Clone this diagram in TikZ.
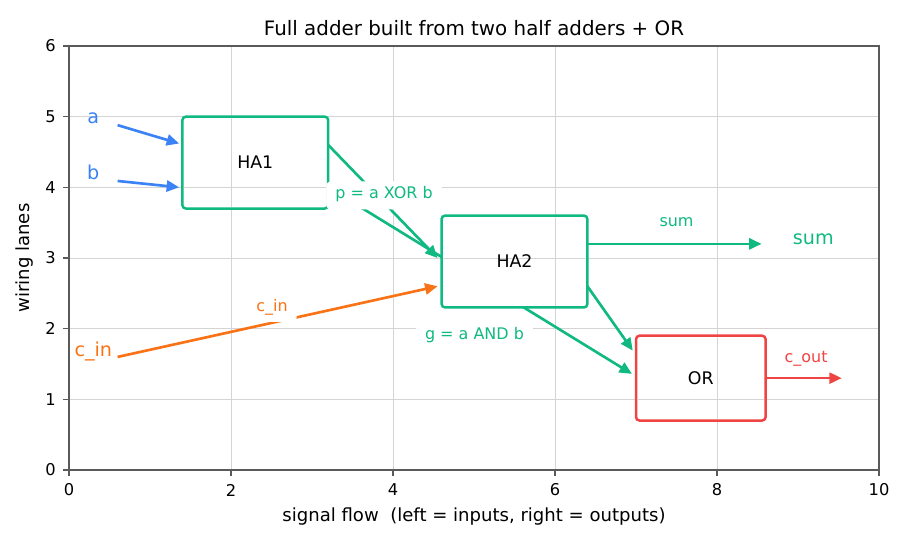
\documentclass[tikz,border=0pt]{standalone}
\usepackage{fontspec}
\setmainfont{DejaVu Sans}
\usetikzlibrary{arrows.meta}
\definecolor{cgreen}{HTML}{10B981}
\definecolor{cblue}{HTML}{3B82F6}
\definecolor{corange}{HTML}{F97316}
\definecolor{cred}{HTML}{EF4444}
\definecolor{cgrid}{HTML}{D4D4D4}
\definecolor{cspine}{HTML}{5A5A5A}
\begin{document}
\begin{tikzpicture}[x=58.32pt,y=50.88pt,
  gridline/.style={cgrid, line width=0.7pt},
  spine/.style={cspine, line width=0.9pt},
  box/.style={draw=#1, line width=1.8pt, rounded corners=2.5pt, fill=white, inner sep=0pt, outer sep=0pt},
  boxtext/.style={text=black, font=\fontsize{12.5}{15}\selectfont},
  wire/.style={draw=#1, line width=1.9pt, -{Triangle[length=9pt,width=8pt,fill=#1]}},
  elabel/.style={text=#1, fill=white, rounded corners=3pt, inner xsep=6.5pt, inner ysep=5pt, text height=0.76em, text depth=0.24em, anchor=base, font=\fontsize{11.5}{14}\selectfont},
  iolabel/.style={text=#1, anchor=base, font=\fontsize{13.8}{16}\selectfont},
  ticklabel/.style={font=\fontsize{11.7}{14}\selectfont, inner sep=0pt},
  axlabel/.style={font=\fontsize{13}{15}\selectfont, inner sep=0pt}]
\useasboundingbox (-0.85185,-1.07547) rectangle (10.38272,6.65094);
% grid
\draw[gridline] (0,0) grid[xstep=2,ystep=1] (10,6);
% endpoints
\coordinate (a0) at (0.6,4.88);
\coordinate (a1) at (1.36,4.62);
\coordinate (b0) at (0.6,4.09);
\coordinate (b1) at (1.36,4.0);
\coordinate (c0) at (0.6,1.6);
\coordinate (c1) at (4.55,2.6);
\coordinate (p0) at (3.2,4.6);
\coordinate (p1) at (4.55,3.0);
\coordinate (g0) at (3.2,4.0);
\coordinate (g1) at (6.95,1.36);
\coordinate (k0) at (6.4,2.6);
\coordinate (k1) at (6.96,1.69);
\coordinate (s0) at (6.4,3.2);
\coordinate (s1) at (8.55,3.2);
\coordinate (o0) at (8.6,1.3);
\coordinate (o1) at (9.54,1.3);
% wires
\draw[wire=cblue] (a0) -- (a1);
\draw[wire=cblue] (b0) -- (b1);
\draw[wire=corange] (c0) -- (c1);
\draw[wire=cgreen] (p0) -- (p1);
\draw[wire=cgreen] (g0) -- (g1);
\draw[wire=cgreen] (k0) -- (k1);
\draw[wire=cgreen] (s0) -- (s1);
\draw[wire=cred] (o0) -- (o1);
% boxes
\node[box=cgreen,minimum width=104.98pt,minimum height=66.14pt] (ha1) at (2.3,4.35) {};
\node[box=cgreen,minimum width=104.98pt,minimum height=66.14pt] (ha2) at (5.5,2.95) {};
\node[box=cred,minimum width=93.31pt,minimum height=61.06pt] (or) at (7.8,1.3) {};
\begin{scope}
\clip ([shift={(1.2pt,1.2pt)}]ha1.south west) rectangle ([shift={(-1.2pt,-1.2pt)}]ha1.north east)
      ([shift={(1.2pt,1.2pt)}]ha2.south west) rectangle ([shift={(-1.2pt,-1.2pt)}]ha2.north east)
      ([shift={(1.2pt,1.2pt)}]or.south west) rectangle ([shift={(-1.2pt,-1.2pt)}]or.north east);
\draw[gridline] (0,0) grid[xstep=2,ystep=1] (10,6);
\end{scope}
\node[boxtext] (ha1t) at (ha1.center) {HA1};
\node[boxtext] (ha2t) at (ha2.center) {HA2};
\node[boxtext] (ort) at (or.center) {OR};
% io labels
\node[iolabel=cblue] (la) at (0.3,4.903) {a};
\node[iolabel=cblue] (lb) at (0.3,4.104) {b};
\node[iolabel=corange] (lc) at (0.3,1.613) {c\_in};
\node[iolabel=cgreen] (lsum) at (9.19,3.184) {sum};
% edge labels
\node[elabel=corange] (ec) at (2.506,2.24) {c\_in};
\node[elabel=cgreen] (ep) at (3.889,3.835) {p = a XOR b};
\node[elabel=cgreen] (eg) at (5.006,1.84) {g = a AND b};
\node[elabel=cgreen] (es) at (7.5,3.44) {sum};
\node[elabel=cred] (eo) at (9.10,1.528) {c\_out};
% spines and ticks
\draw[spine] (0,0) rectangle (10,6);
\foreach \x in {0,2,4,6,8,10} {
  \draw[spine] (\x,0) -- ++(0,-4pt);
  \node[ticklabel] at (\x,-0.283) {\x};
}
\foreach \y in {0,...,6} {
  \draw[spine] (0,\y) -- ++(-4pt,0);
  \node[ticklabel,anchor=east] at (-0.16,\y) {\y};
}
% titles
\node[font=\fontsize{14.3}{17}\selectfont, inner sep=0pt] (title) at (5,6.25) {Full adder built from two half adders + OR};
\node[axlabel, anchor=base] (xl) at (5,-0.722) {signal flow~ (left = inputs, right = outputs)};
\node[axlabel, anchor=base, rotate=90] (yl) at (-0.488,3) {wiring lanes};
\end{tikzpicture}
\end{document}
